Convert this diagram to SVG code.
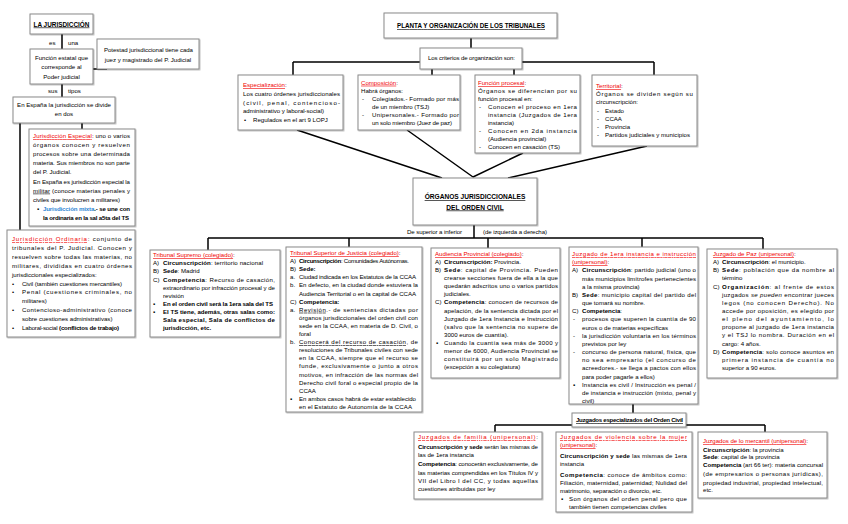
<svg xmlns="http://www.w3.org/2000/svg" width="848" height="524" viewBox="0 0 848 524">
<defs>
<filter id="sh" x="-5%" y="-5%" width="112%" height="115%"><feDropShadow dx="0.8" dy="0.8" stdDeviation="0.5" flood-color="#000" flood-opacity="0.3"/></filter>
<style>
.box{fill:#fff;stroke:#8a8a8a;stroke-width:1;filter:url(#sh)}
.ln{stroke:#000;stroke-width:1.5;fill:none}
.t{font-family:"Liberation Sans",Arial,sans-serif;font-size:6.1px;fill:#000}
.b{font-weight:bold}
.u{text-decoration:underline}
.red{fill:#f00000}
.blue{fill:#2e86d4}
.i{font-style:italic}
.c{text-anchor:middle}
</style>
</defs>
<rect width="848" height="524" fill="#fff"/>

<g id="connectors">
<path class="ln" d="M62,34V49 M62,84V97 M93,69H107 M82,123V129 M20,123V230"/>
<path class="ln" d="M471,38V48 M293,62H654 M293,62V75 M432,62V75 M514,62V75 M654,62V75"/>
<path class="ln" d="M297,130L442,178 M407,130L473,177 M523,153L473,177 M647,146L508,178"/>
<path class="ln" d="M474,225V238 M208,238H763 M208,238V250 M349,238V247 M488,238V248 M642,238V247 M763,238V249"/>
<path class="ln" d="M633,404V413 M495,425H765 M495,425V432 M765,425V432"/>
<text class="t" x="49" y="45">es</text>
<text class="t" x="68" y="45">una</text>
<text class="t" x="48" y="93">sus</text>
<text class="t" x="68" y="93">tipos</text>
<text class="t" x="407" y="234" textLength="55">De superior a inferior</text>
<text class="t" x="483" y="234" textLength="64">(de izquierda a derecha)</text>
</g>

<g id="n-jurisdiccion">
<rect class="box" x="30" y="14" width="63" height="20"/>
<text class="t b u c" x="61.5" y="26.5" style="font-size:6.4px">LA JURISDICCIÓN</text>
</g>

<g id="n-funcion">
<rect class="box" x="30" y="49" width="63" height="35"/>
<text class="t c" x="61.5" y="59.5">Función estatal que</text>
<text class="t c" x="61.5" y="69">corresponde al</text>
<text class="t c" x="61.5" y="79">Poder judicial</text>
</g>

<g id="n-potestad">
<rect class="box" x="97" y="39" width="102" height="30"/>
<text class="t" x="104" y="51.5" textLength="89">Potestad jurisdiccional tiene cada</text>
<text class="t c" x="148" y="62">juez y magistrado del P. Judicial</text>
</g>

<g id="n-espana">
<rect class="box" x="13" y="97" width="102" height="26"/>
<text class="t c" x="64" y="106.5">En España la jurisdicción se divide</text>
<text class="t c" x="64" y="116">en dos</text>
</g>

<g id="n-especial">
<rect class="box" x="29" y="129" width="106" height="97"/>
<text class="t" x="33" y="138" textLength="97"><tspan class="red u">Jurisdicción Especial</tspan>: uno o varios</text>
<text class="t" x="33" y="147.1" textLength="97">órganos conocen y resuelven</text>
<text class="t" x="33" y="156.2" textLength="97">procesos sobre una determinada</text>
<text class="t" x="33" y="165.3" textLength="97">materia. Sus miembros no son parte</text>
<text class="t" x="33" y="174.4">del P. Judicial.</text>
<text class="t" x="33" y="183.5" textLength="97">En España es jurisdicción especial la</text>
<text class="t" x="33" y="192.6" textLength="97"><tspan class="u">militar</tspan> (conoce materias penales y</text>
<text class="t" x="33" y="201.7" textLength="87">civiles que involucren a militares)</text>
<text class="t" x="37" y="210.8">▪</text>
<text class="t b" x="43" y="210.8" textLength="87"><tspan class="blue">Jurisdicción mixta</tspan>.- se une con</text>
<text class="t b" x="43" y="219.9" textLength="86">la ordinaria en la sal a5ta del TS</text>
</g>

<g id="n-ordinaria">
<rect class="box" x="7" y="230" width="128" height="107"/>
<text class="t" x="12" y="241" textLength="120"><tspan class="red u">Jurisdicción Ordinaria</tspan>: conjunto de</text>
<text class="t" x="12" y="249.9" textLength="120">tribunales del P. Judicial. Conocen y</text>
<text class="t" x="12" y="258.8" textLength="120">resuelven sobre todas las materias, no</text>
<text class="t" x="12" y="267.7" textLength="120">militares, divididas en cuatro órdenes</text>
<text class="t" x="12" y="276.6">jurisdiccionales especializados:</text>
<text class="t" x="12" y="285.5">•</text>
<text class="t" x="22" y="285.5" textLength="100">Civil (también cuestiones mercantiles)</text>
<text class="t" x="12" y="294.4">•</text>
<text class="t" x="22" y="294.4" textLength="110">Penal (cuestiones criminales, no</text>
<text class="t" x="22" y="303.3">militares)</text>
<text class="t" x="12" y="312.2">•</text>
<text class="t" x="22" y="312.2" textLength="110">Contencioso-administrativo (conoce</text>
<text class="t" x="22" y="321.1">sobre cuestiones administrativas)</text>
<text class="t" x="12" y="330">•</text>
<text class="t" x="22" y="330" textLength="97">Laboral-social <tspan class="b">(conflictos de trabajo)</tspan></text>
</g>

<g id="n-planta">
<rect class="box" x="384" y="13" width="173" height="25"/>
<text class="t b u" x="397" y="28" style="font-size:6.3px" textLength="148">PLANTA Y ORGANIZACIÓN DE LOS TRIBUNALES</text>
</g>

<g id="n-criterios">
<rect class="box" x="420" y="48" width="102" height="21"/>
<text class="t" x="428" y="59.5" textLength="87">Los criterios de organización son:</text>
</g>

<g id="n-especializacion">
<rect class="box" x="238" y="75" width="105" height="55"/>
<text class="t" x="243" y="87"><tspan class="red u">Especialización</tspan>:</text>
<text class="t" x="243" y="95.8" textLength="97">Los cuatro órdenes jurisdiccionales</text>
<text class="t" x="243" y="104.5" textLength="97">(civil,          penal,          contencioso-</text>
<text class="t" x="243" y="113.2" textLength="81">administrativo y laboral-social)</text>
<text class="t" x="244" y="122">•</text>
<text class="t" x="253" y="122">Regulados en el art 9 LOPJ</text>
</g>

<g id="n-composicion">
<rect class="box" x="358" y="75" width="102" height="55"/>
<text class="t" x="361" y="84.7"><tspan class="red u">Composición</tspan>:</text>
<text class="t" x="361" y="92.8">Habrá órganos:</text>
<text class="t" x="362" y="100.9">-</text>
<text class="t" x="372" y="100.9" textLength="87">Colegiados.-  Formado por más</text>
<text class="t" x="372" y="109">de un miembro (TSJ)</text>
<text class="t" x="362" y="117.1">-</text>
<text class="t" x="372" y="117.1" textLength="87">Unipersonales.-  Formado por</text>
<text class="t" x="372" y="125.2" textLength="80">un solo miembro (Juez de paz)</text>
</g>

<g id="n-funcion-procesal">
<rect class="box" x="475" y="75" width="105" height="78"/>
<text class="t" x="478" y="85"><tspan class="red u">Función procesal</tspan>:</text>
<text class="t" x="478" y="93" textLength="99">Órganos se diferencian por su</text>
<text class="t" x="478" y="101">función procesal en:</text>
<text class="t" x="479" y="109">-</text>
<text class="t" x="488" y="109" textLength="89">Conocen el proceso en 1era</text>
<text class="t" x="488" y="117" textLength="89">instancia (Juzgados de 1era</text>
<text class="t" x="488" y="125">instancia)</text>
<text class="t" x="479" y="133">-</text>
<text class="t" x="488" y="133" textLength="89">Conocen en 2da instancia</text>
<text class="t" x="488" y="141">(Audiencia provincial)</text>
<text class="t" x="479" y="149">-</text>
<text class="t" x="488" y="149">Conocen en casación (TS)</text>
</g>

<g id="n-territorial">
<rect class="box" x="592" y="75" width="105" height="71"/>
<text class="t" x="596" y="88"><tspan class="red u">Territorial</tspan>:</text>
<text class="t" x="596" y="96.2" textLength="97">Órganos se dividen según su</text>
<text class="t" x="596" y="104.4">circunscripción:</text>
<text class="t" x="597" y="112.6">-</text><text class="t" x="605" y="112.6">Estado</text>
<text class="t" x="597" y="120.8">-</text><text class="t" x="605" y="120.8">CCAA</text>
<text class="t" x="597" y="129">-</text><text class="t" x="605" y="129">Provincia</text>
<text class="t" x="597" y="137.2">-</text><text class="t" x="605" y="137.2" textLength="85">Partidos judiciales y municipios</text>
</g>

<g id="n-organos">
<rect class="box" x="413" y="178" width="124" height="47"/>
<text class="t b u c" x="475" y="199" style="font-size:6.6px">ÓRGANOS JURISDICCIONALES</text>
<text class="t b u c" x="475" y="209.5" style="font-size:6.6px">DEL ORDEN CIVIL</text>
</g>

<g id="n-supremo">
<rect class="box" x="150" y="250" width="130" height="87"/>
<text class="t" x="153" y="257"><tspan class="red u">Tribunal Supremo (colegiado)</tspan>:</text>
<text class="t" x="153" y="265.2">A)</text><text class="t" x="163" y="265.2" textLength="100"><tspan class="b">Circunscripción</tspan>: territorio nacional</text>
<text class="t" x="153" y="273.3">B)</text><text class="t" x="163" y="273.3"><tspan class="b">Sede</tspan>: Madrid</text>
<text class="t" x="153" y="281.5">C)</text><text class="t" x="163" y="281.5" textLength="112"><tspan class="b">Competencia</tspan>: Recurso de casación,</text>
<text class="t" x="163" y="289.6" textLength="112">extraordinario por infracción procesal y de</text>
<text class="t" x="163" y="297.8">revisión</text>
<text class="t" x="153" y="305.9">▪</text><text class="t b" x="163" y="305.9" textLength="110">En el orden civil será la 1era sala del TS</text>
<text class="t" x="153" y="314.1">▪</text><text class="t b" x="163" y="314.1" textLength="112">El TS tiene, además, otras salas como:</text>
<text class="t b" x="163" y="322.2" textLength="112">Sala especial, Sala de conflictos de</text>
<text class="t b" x="163" y="330.4">jurisdicción, etc.</text>
</g>

<g id="n-tsj">
<rect class="box" x="286" y="247" width="136" height="165"/>
<text class="t" x="290" y="255"><tspan class="red u">Tribunal Superior de Justicia (colegiado)</tspan>:</text>
<text class="t" x="290" y="263.1">A)</text><text class="t" x="299" y="263.1" textLength="110"><tspan class="b">Circunscripción</tspan>: Comunidades Autónomas.</text>
<text class="t" x="290" y="271.2">B)</text><text class="t b" x="299" y="271.2">Sede:</text>
<text class="t" x="290" y="279.3">a.</text><text class="t" x="299" y="279.3" textLength="117">Ciudad indicada en los Estatutos de la CCAA</text>
<text class="t" x="290" y="287.4">b.</text><text class="t" x="299" y="287.4" textLength="119">En defecto, en la ciudad donde estuviera la</text>
<text class="t" x="299" y="295.5" textLength="117">Audiencia Territorial o en la capital de CCAA</text>
<text class="t" x="290" y="303.6">C)</text><text class="t b" x="299" y="303.6">Competencia:</text>
<text class="t" x="290" y="311.7">a.</text><text class="t" x="299" y="311.7" textLength="119"><tspan class="u">Revisión</tspan>.- de sentencias dictadas por</text>
<text class="t" x="299" y="319.8" textLength="119">órganos jurisdiccionales del orden civil con</text>
<text class="t" x="299" y="327.9" textLength="119">sede en la CCAA, en materia de D. Civil, o</text>
<text class="t" x="299" y="336">foral</text>
<text class="t" x="290" y="344.1">b.</text><text class="t" x="299" y="344.1" textLength="119"><tspan class="u">Conocerá del recurso de casación</tspan>, de</text>
<text class="t" x="299" y="352.2" textLength="119">resoluciones de Tribunales civiles con sede</text>
<text class="t" x="299" y="360.3" textLength="119">en la CCAA, siempre que el recurso se</text>
<text class="t" x="299" y="368.4" textLength="119">funde, exclusivamente o junto a otros</text>
<text class="t" x="299" y="376.5" textLength="119">motivos, en infracción de las normas del</text>
<text class="t" x="299" y="384.6" textLength="119">Derecho civil foral o especial propio de la</text>
<text class="t" x="299" y="392.7">CCAA</text>
<text class="t" x="290" y="400.8">▪</text><text class="t" x="299" y="400.8" textLength="117">En ambos casos habrá de estar establecido</text>
<text class="t" x="299" y="408.9" textLength="113">en el Estatuto de Autonomía de la CCAA</text>
</g>

<g id="n-audiencia">
<rect class="box" x="431" y="248" width="129" height="130"/>
<text class="t" x="435" y="256"><tspan class="red u">Audiencia Provincial (colegiado)</tspan>:</text>
<text class="t" x="435" y="264.1">A)</text><text class="t" x="444" y="264.1"><tspan class="b">Circunscripción:</tspan> Provincia.</text>
<text class="t" x="435" y="272.1">B)</text><text class="t" x="444" y="272.1" textLength="114"><tspan class="b">Sede</tspan>: capital de Provincia. Pueden</text>
<text class="t" x="444" y="280.2" textLength="114">crearse secciones fuera de ella a la que</text>
<text class="t" x="444" y="288.3" textLength="114">quedarán adscritos uno o varios partidos</text>
<text class="t" x="444" y="296.4">judiciales.</text>
<text class="t" x="435" y="304.4">C)</text><text class="t" x="444" y="304.4" textLength="114"><tspan class="b">Competencia</tspan>: conocen de recursos de</text>
<text class="t" x="444" y="312.5" textLength="114">apelación, de la sentencia dictada por el</text>
<text class="t" x="444" y="320.6" textLength="114">Juzgado de 1era Instancia e Instrucción</text>
<text class="t" x="444" y="328.6" textLength="114">(salvo que la sentencia no supere de</text>
<text class="t" x="444" y="336.7">3000 euros de cuantía).</text>
<text class="t" x="436" y="344.8">▪</text><text class="t" x="444" y="344.8" textLength="114">Cuando la cuantía sea más de 3000 y</text>
<text class="t" x="444" y="352.8" textLength="114">menor de 6000, Audiencia Provincial se</text>
<text class="t" x="444" y="360.9" textLength="114">constituirá por un solo Magistrado</text>
<text class="t" x="444" y="369">(excepción a su colegiatura)</text>
</g>

<g id="n-primera">
<rect class="box" x="569" y="247" width="129" height="157"/>
<text class="t red u" x="572" y="256" textLength="124">Juzgado de 1era instancia e instrucción</text>
<text class="t" x="572" y="264.2"><tspan class="red u">(unipersonal)</tspan>:</text>
<text class="t" x="572" y="272.3">A)</text><text class="t" x="582" y="272.3" textLength="114"><tspan class="b">Circunscripción</tspan>: partido judicial (uno o</text>
<text class="t" x="582" y="280.5" textLength="114">más municipios limítrofes pertenecientes</text>
<text class="t" x="582" y="288.7">a la misma provincia)</text>
<text class="t" x="572" y="296.9">B)</text><text class="t" x="582" y="296.9" textLength="114"><tspan class="b">Sede</tspan>: municipio capital del partido del</text>
<text class="t" x="582" y="305">que tomará su nombre.</text>
<text class="t" x="572" y="313.2">C)</text><text class="t" x="582" y="313.2"><tspan class="b">Competencia</tspan>:</text>
<text class="t" x="573" y="321.4">-</text><text class="t" x="582" y="321.4" textLength="114">procesos que superen la cuantía de 90</text>
<text class="t" x="582" y="329.5">euros o de materias específicas</text>
<text class="t" x="573" y="337.7">-</text><text class="t" x="582" y="337.7" textLength="114">la jurisdicción voluntaria en los términos</text>
<text class="t" x="582" y="345.9">previstos por ley</text>
<text class="t" x="573" y="354">-</text><text class="t" x="582" y="354" textLength="114">concurso de persona natural, física, que</text>
<text class="t" x="582" y="362.2" textLength="114">no sea empresario (el concurso de</text>
<text class="t" x="582" y="370.4" textLength="114">acreedores.- se llega a pactos con ellos</text>
<text class="t" x="582" y="378.6">para poder pagarle a ellos)</text>
<text class="t" x="573" y="386.7">▪</text><text class="t" x="582" y="386.7" textLength="114">Instancia es civil / Instrucción es penal /</text>
<text class="t" x="582" y="394.9" textLength="114">de instancia e instrucción (mixto, penal y</text>
<text class="t" x="582" y="402.8">civil)</text>
</g>

<g id="n-paz">
<rect class="box" x="707" y="249" width="130" height="129"/>
<text class="t" x="713" y="256"><tspan class="red u">Juzgado de Paz (unipersonal)</tspan>:</text>
<text class="t" x="713" y="264.1">A)</text><text class="t" x="722" y="264.1"><tspan class="b">Circunscripción</tspan>: el municipio.</text>
<text class="t" x="713" y="272.3">B)</text><text class="t" x="722" y="272.3" textLength="112"><tspan class="b">Sede</tspan>: población que da nombre al</text>
<text class="t" x="722" y="280.4">término</text>
<text class="t" x="713" y="288.6">C)</text><text class="t" x="722" y="288.6" textLength="112"><tspan class="b">Organización</tspan>: al frente de estos</text>
<text class="t" x="722" y="296.7" textLength="112">juzgados <tspan class="i">se pueden</tspan> encontrar jueces</text>
<text class="t" x="722" y="304.8" textLength="112">legos (no conocen Derecho). No</text>
<text class="t" x="722" y="313" textLength="112">accede por oposición, es elegido por</text>
<text class="t" x="722" y="321.1" textLength="112">el pleno del ayuntamiento, lo</text>
<text class="t" x="722" y="329.3" textLength="112">propone al juzgado de 1era instancia</text>
<text class="t" x="722" y="337.4" textLength="112">y el TSJ lo nombra. Duración en el</text>
<text class="t" x="722" y="345.5">cargo: 4 años.</text>
<text class="t" x="713" y="353.7">D)</text><text class="t" x="722" y="353.7" textLength="112"><tspan class="b">Competencia</tspan>: solo conoce asuntos en</text>
<text class="t" x="722" y="361.8" textLength="112">primera instancia de cuantía no</text>
<text class="t" x="722" y="370">superior a 90 euros.</text>
</g>

<g id="n-especializados">
<rect class="box" x="572" y="413" width="114" height="14"/>
<text class="t b u" x="576" y="422" textLength="107">Juzgados especializados del Orden Civil</text>
</g>

<g id="n-familia">
<rect class="box" x="414" y="432" width="128" height="67"/>
<text class="t" x="418" y="439" textLength="120"><tspan class="red u">Juzgados de familia (unipersonal)</tspan>:</text>
<text class="t" x="418" y="449" textLength="120"><tspan class="b">Circunscripción y sede</tspan> serán las mismas de</text>
<text class="t" x="418" y="457">las de 1era instancia</text>
<text class="t" x="418" y="466" textLength="120"><tspan class="b">Competencia</tspan>: conocerán exclusivamente, de</text>
<text class="t" x="418" y="475" textLength="120">las materias comprendidas en los Títulos IV y</text>
<text class="t" x="418" y="483" textLength="120">VII del Libro I del CC, y todas aquellas</text>
<text class="t" x="418" y="491">cuestiones atribuidas por ley</text>
</g>

<g id="n-violencia">
<rect class="box" x="556" y="432" width="136" height="80"/>
<text class="t red u" x="560" y="439" textLength="127">Juzgados de violencia sobre la mujer</text>
<text class="t" x="560" y="447"><tspan class="red u">(unipersonal)</tspan>:</text>
<text class="t" x="560" y="458" textLength="127"><tspan class="b">Circunscripción y sede</tspan> las mismas de 1era</text>
<text class="t" x="560" y="466">instancia</text>
<text class="t" x="560" y="477" textLength="127"><tspan class="b">Competencia</tspan>: conoce de ámbitos como:</text>
<text class="t" x="560" y="484.5" textLength="127">Filiación, maternidad, paternidad; Nulidad del</text>
<text class="t" x="560" y="492.5" textLength="102">matrimonio, separación o divorcio, etc.</text>
<text class="t" x="561" y="501">▪</text><text class="t" x="569" y="501" textLength="118">Son órganos del orden penal pero que</text>
<text class="t" x="569" y="509">también tienen competencias civiles</text>
</g>

<g id="n-mercantil">
<rect class="box" x="698" y="432" width="129" height="66"/>
<text class="t" x="703" y="443" textLength="105"><tspan class="red u">Juzgados de lo mercantil (unipersonal)</tspan>:</text>
<text class="t" x="703" y="452"><tspan class="b">Circunscripción</tspan>: la provincia</text>
<text class="t" x="703" y="459.3"><tspan class="b">Sede</tspan>: capital de la provincia</text>
<text class="t" x="703" y="467" textLength="120"><tspan class="b">Competencia</tspan> (art 66 ter): materia concursal</text>
<text class="t" x="703" y="476.3" textLength="120">(de empresarios o personas jurídicas),</text>
<text class="t" x="703" y="484.7" textLength="120">propiedad industrial, propiedad intelectual,</text>
<text class="t" x="703" y="492">etc.</text>
</g>
</svg>
